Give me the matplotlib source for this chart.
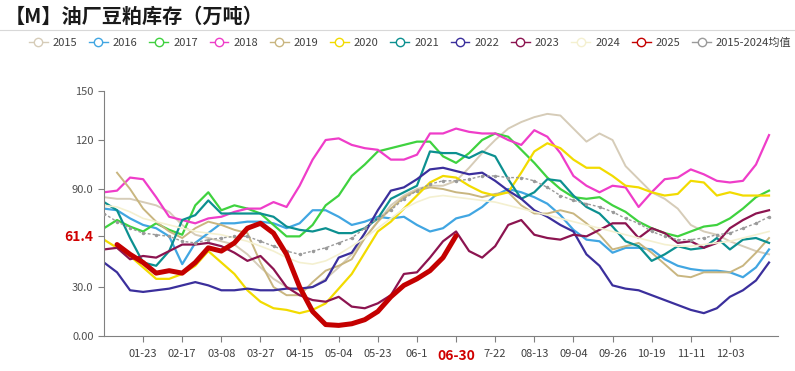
#%% Importing packages
import numpy as np
import matplotlib
matplotlib.use('Agg')
import matplotlib.pyplot as plt
from matplotlib.lines import Line2D

plt.rcParams['font.family'] = ['Noto Sans CJK SC', 'DejaVu Sans']

#%% Data (weekly, 52 weeks)
tick_labels = ['01-23', '02-17', '03-08', '03-27', '04-15', '05-04', '05-23', '06-1',
               '06-30', '7-22', '08-13', '09-04', '09-26', '10-19', '11-11', '12-03']

y2015 = [85, 84, 84, 82, 80, 76, 68, 62, 60, 58, 56, 50, 42, 35, 30, 28, 30, 35, 42, 50,
         60, 70, 80, 86, 90, 92, 92, 95, 103, 112, 120, 127, 131, 134, 136, 135, 127, 119,
         124, 120, 104, 96, 88, 84, 78, 68, 64, 62, 58, 55, 52, 50]
y2016 = [78, 77, 72, 68, 66, 61, 44, 57, 63, 69, 69, 70, 70, 69, 66, 69, 77, 77, 73, 68,
         70, 73, 72, 73, 68, 64, 66, 72, 74, 79, 86, 90, 88, 85, 81, 74, 65, 59, 58, 51,
         54, 54, 53, 47, 43, 41, 40, 40, 39, 36, 42, 53]
y2017 = [66, 71, 67, 64, 69, 65, 62, 80, 88, 77, 80, 78, 75, 68, 61, 61, 68, 80, 86, 98,
         105, 113, 115, 117, 119, 119, 110, 106, 112, 120, 124, 122, 114, 106, 97, 90, 85,
         84, 85, 80, 76, 70, 66, 63, 61, 64, 67, 68, 72, 78, 85, 89]
y2018 = [88, 89, 97, 96, 85, 73, 71, 69, 72, 73, 76, 78, 78, 82, 79, 92, 108, 120, 121, 117,
         115, 114, 108, 108, 111, 124, 124, 127, 125, 124, 124, 120, 117, 126, 122, 112, 98,
         92, 88, 92, 91, 79, 88, 96, 97, 102, 99, 95, 94, 95, 105, 123]
y2019 = [None, 100, 90, 78, 70, 64, 60, 66, 70, 68, 65, 63, 45, 30, 25, 25, 33, 40, 43, 47,
         60, 70, 78, 85, 89, 91, 90, 88, 87, 85, 87, 88, 80, 75, 75, 77, 75, 69, 62, 53,
         55, 57, 51, 44, 37, 36, 39, 39, 39, 43, 51, 60]
y2020 = [59, 54, 49, 42, 35, 35, 38, 43, 52, 45, 38, 28, 21, 17, 16, 14, 16, 20, 29, 38,
         51, 64, 70, 78, 86, 94, 98, 97, 92, 88, 86, 88, 100, 113, 118, 115, 108, 103, 103,
         98, 92, 91, 88, 86, 87, 95, 94, 86, 88, 86, 86, 86]
y2021 = [82, 77, 60, 45, 43, 52, 71, 74, 83, 75, 75, 75, 75, 73, 67, 65, 64, 66, 63, 63,
         66, 72, 84, 88, 92, 113, 112, 112, 109, 113, 110, 96, 84, 88, 96, 95, 86, 79, 75,
         67, 58, 55, 46, 50, 55, 53, 54, 60, 53, 59, 60, 57]
y2022 = [45, 39, 28, 27, 28, 29, 31, 33, 31, 28, 28, 29, 28, 28, 29, 29, 30, 34, 48, 51,
         63, 77, 89, 91, 96, 102, 103, 101, 99, 100, 95, 89, 84, 77, 73, 68, 64, 50, 43,
         31, 29, 28, 25, 22, 19, 16, 14, 17, 24, 28, 34, 45]
y2023 = [53, 54, 47, 49, 48, 52, 56, 56, 57, 55, 51, 46, 49, 41, 30, 25, 22, 21, 24, 18,
         17, 20, 25, 38, 39, 48, 58, 64, 52, 48, 55, 68, 71, 62, 60, 59, 62, 61, 65, 69,
         69, 60, 66, 63, 57, 58, 54, 57, 66, 71, 75, 77]
y2024 = [80, 79, 76, 72, 70, 68, 66, 64, 63, 62, 60, 58, 55, 52, 48, 45, 44, 46, 50, 55,
         60, 66, 72, 78, 82, 85, 86, 85, 84, 83, 82, 80, 78, 76, 74, 72, 70, 68, 66, 64,
         62, 60, 58, 56, 55, 55, 56, 57, 58, 60, 62, 64]
y2025 = [None, 56, 50, 45, 38.5, 40, 38.5, 45, 54, 52, 57, 66, 69, 63, 50, 30, 15, 7, 6.5,
         7.5, 10, 15, 24, 31, 35, 40, 48, 61.4]
y_avg = [75, 70, 66, 63, 62, 61, 58, 57, 59, 60, 61, 61, 58, 55, 52, 50, 52, 54, 57, 60,
         66, 72, 77, 84, 89, 93, 95, 95, 96, 98, 98, 97, 97, 95, 91, 86, 83, 81, 79, 76,
         72, 69, 64, 61, 59, 59, 60, 62, 63, 66, 69, 73]

latest = 61.4

#%% Series settings
series = [
    ('2015', y2015, '#d6ccb8', 1.4),
    ('2016', y2016, '#41a6e2', 1.6),
    ('2017', y2017, '#3fd23f', 1.6),
    ('2018', y2018, '#ef3dc9', 1.6),
    ('2019', y2019, '#c9b680', 1.4),
    ('2020', y2020, '#f2db00', 1.6),
    ('2021', y2021, '#0c9090', 1.6),
    ('2022', y2022, '#3b2f9c', 1.6),
    ('2023', y2023, '#8c1450', 1.6),
    ('2024', y2024, '#f4f0d0', 1.2),
]

#%% Figure
fig = plt.figure(figsize=(7.95, 3.71), dpi=100)
ax = fig.add_axes([0.1308, 0.0943, 0.848, 0.6604])

for name, vals, col, lw in series:
    v = np.array(vals, dtype=float)
    ax.plot(np.arange(len(v)), v, color=col, lw=lw, label=name)

v25 = np.array(y2025, dtype=float)
ax.plot(np.arange(len(v25)), v25, color='#c40000', lw=3.6, solid_capstyle='round',
        label='2025', zorder=5)

va = np.array(y_avg, dtype=float)
ax.plot(np.arange(len(va)), va, color='#9a9a9a', lw=1.0, ls=(0, (2, 1.5)),
        marker='o', ms=1.5, label='2015-2024均值', zorder=4)

#%% Axes
ax.set_xlim(0, 51.7)
ax.set_ylim(0, 150)
ax.spines['top'].set_visible(False)
ax.spines['right'].set_visible(False)
ax.spines['left'].set_color('#808080')
ax.spines['bottom'].set_color('#808080')

ax.set_xticks(np.arange(3, 49, 3))
ax.set_xticklabels(tick_labels)
ax.tick_params(axis='x', length=4, color='#808080', labelsize=8, labelcolor='#404040', pad=5)
for lab in ax.get_xticklabels():
    if lab.get_text() == '06-30':
        lab.set_color('#d00000')
        lab.set_fontweight('bold')
        lab.set_fontsize(10)

ax.set_yticks([0, 30, latest, 90, 120, 150])
ax.set_yticklabels(['0.00', '30.0', '61.4', '90.0', '120', '150'])
ax.tick_params(axis='y', length=4, color='#808080', labelsize=8, labelcolor='#505050')
for lab in ax.get_yticklabels():
    if lab.get_text() == '61.4':
        lab.set_color('#d00000')
        lab.set_fontweight('bold')
        lab.set_fontsize(10)

#%% Title, separator, legend
fig.text(0.006, 0.955, '【M】油厂豆粕库存（万吨）', fontsize=14.5, fontweight='bold',
         color='#1a1a1a', va='center', ha='left')
fig.add_artist(Line2D([0.0, 1.0], [0.918, 0.918], color='#d8d8d8', lw=0.8))

handles, labels = ax.get_legend_handles_labels()
legend_handles = [Line2D([0], [0], color=h.get_color(), lw=1.0, marker='o', ms=6,
                         markerfacecolor='white', markeredgecolor=h.get_color())
                  for h in handles]
fig.legend(legend_handles, labels, loc='center', bbox_to_anchor=(0.516, 0.885), ncol=12,
           frameon=False, fontsize=8, handlelength=1.7, handletextpad=0.45,
           columnspacing=1.05, labelcolor='#404040')

fig.savefig('out.png', dpi=100)
